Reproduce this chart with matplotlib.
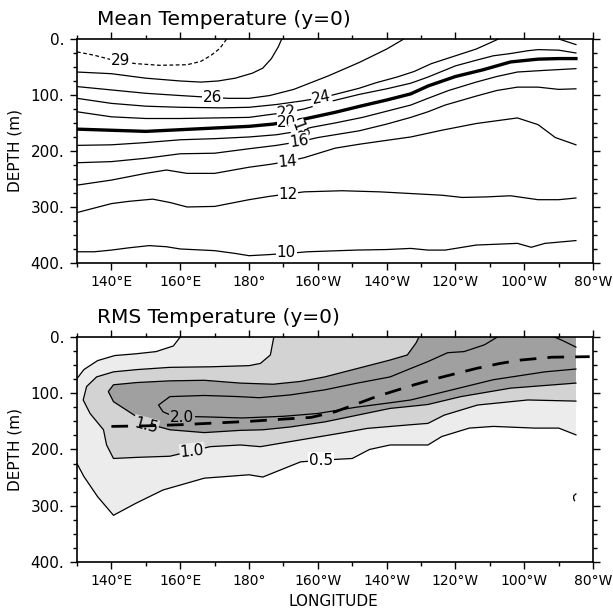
import numpy as np
import matplotlib
matplotlib.use('Agg')
import matplotlib.pyplot as plt
from matplotlib.ticker import FixedLocator, MultipleLocator

# ---- mean temperature isotherms (longitude in deg E, depth in m) ----
t29_lon = [130, 135, 140, 147, 154, 162, 166, 169, 171.5, 173.5]
t29_dep = [23, 29, 37, 44, 47, 46, 40, 29, 17, 0]

t28_lon = [130, 140, 150, 160, 166, 171, 176, 181, 184, 186.5, 188.5, 189.5]
t28_dep = [59, 62, 70, 75, 77, 75, 70, 61, 52, 35, 14, 0]

t26_lon = [130, 140, 150, 160, 168, 174, 180, 186, 193, 203, 212, 220, 225]
t26_dep = [85, 91, 97, 101, 104, 106, 106, 101, 90, 66, 42, 18, 0]

t24_lon = [130, 140, 150, 160, 172, 180, 188, 195, 201, 205, 212, 217, 223,
           228, 233, 240, 246, 250, 252.5]
t24_dep = [106, 115, 120, 122, 123, 122, 117, 111, 105, 99, 88, 78, 68,
           58, 44, 30, 18, 7, 0]
t24b_lon = [270, 272.5, 275]
t24b_dep = [0, 5, 10]

t22_lon = [130, 140, 150, 160, 170, 180, 186, 191, 196, 204, 212, 220, 227,
           232, 240, 246, 251, 256, 261, 264, 270, 275]
t22_dep = [130, 139, 142, 142, 141, 140, 135, 131, 125, 111, 99, 89, 79,
           68, 48, 38, 30, 26, 21, 19, 20, 25]

t20_lon = [130, 140, 150, 160, 170, 180, 187, 196, 205, 213, 220, 227, 232,
           240, 248, 256, 264, 270, 275]
t20_dep = [161, 163, 165, 162, 159, 156, 152, 143, 131, 119, 109, 98, 84,
           67, 55, 41, 36, 35, 35]

t18_lon = [130, 140, 150, 160, 170, 180, 188, 194, 198, 205, 213, 220, 227,
           232, 238, 246, 252, 258, 266, 275]
t18_dep = [190, 189, 185, 180, 178, 175, 171, 165, 158, 150, 140, 129, 118,
           106, 92, 77, 67, 59, 56, 53]

t16_lon = [130, 140, 150, 160, 170, 180, 188, 195, 200, 212, 220, 227, 232,
           237, 246, 252, 258, 264, 270, 275]
t16_dep = [221, 219, 213, 205, 204, 196, 190, 183, 176, 164, 152, 140, 130,
           118, 102, 92, 86, 86, 90, 89]

t14_lon = [130, 140, 150, 156, 162, 170, 180, 186, 191, 196, 205, 212, 220,
           227, 236, 246, 252, 258, 264, 269, 275]
t14_dep = [261, 252, 240, 234, 240, 240, 229, 224, 219, 212, 195, 188, 181,
           175, 163, 151, 146, 141, 153, 176, 189]

t12_lon = [130, 135, 140, 145, 152, 157, 162, 170, 180, 186, 191, 196, 207,
           218, 227, 236, 242, 249, 256, 264, 270, 275]
t12_dep = [310, 302, 294, 290, 286, 292, 300, 299, 287, 281, 277, 273, 271,
           273, 276, 279, 283, 282, 280, 287, 287, 284]

t10_lon = [130, 135, 140, 145, 151, 156, 160, 170, 176, 180, 186, 191, 197,
           211, 220, 227, 232, 237, 246, 258, 262, 266, 275]
t10_dep = [380, 380, 377, 373, 369, 371, 375, 378, 383, 387, 385, 383, 380,
           377, 376, 374, 377, 377, 368, 365, 372, 365, 360]

# ---- RMS temperature contours ----
r05_up_lon = [130, 132, 136, 141, 147, 153, 158, 160]
r05_up_dep = [74, 58, 42, 33, 30, 26, 16, 0]
r05_lo_lon = [130, 132, 136, 140.6, 147, 155, 167, 180, 184, 195, 204, 210,
              215, 221, 232, 236, 244, 251, 263, 270, 275]
r05_lo_dep = [225, 248, 284, 317, 296, 272, 251, 245, 249, 222, 218, 216,
              200, 192, 192, 177, 162, 159, 162, 162, 174]
r05_isl_lon = [275, 274.4, 274.3, 274.6]
r05_isl_dep = [279, 282, 287, 291]

r10_lon = [187.2, 186.2, 183.3, 180, 169, 157, 147.4, 140.6, 135.7, 132.8,
           131.8, 133.8, 137.7, 138.6, 140.6, 147.4, 157, 168.7, 177.5, 183.3,
           192, 206.6, 214.4, 227, 232, 236.7, 246.4, 261, 275]
r10_dep = [0, 32, 47, 51, 53, 54, 58, 62, 71, 88, 112, 136, 165, 192, 216,
           214, 212, 195, 192, 195, 186, 171, 162.5, 156, 153.6, 139, 121,
           112, 114]

r15_lon = [229.4, 228.5, 226, 221, 211.5, 202, 195, 187, 177.5, 167, 157,
           147.4, 140.6, 139.1, 140.6, 147.4, 152.2, 157, 167, 177.5, 184, 192,
           202, 211.5, 221, 229, 232, 241.6, 256, 275]
r15_dep = [0, 11, 32, 41, 56, 71, 79, 84, 82, 77, 78, 81, 85, 97, 115, 142,
           157, 165, 170, 166, 165, 160, 151, 139, 127, 122, 120, 106, 91, 82]

r20_lon = [252.2, 248.4, 242.5, 237.7, 231.9, 227, 221, 211.5, 202, 192, 183,
           177, 167, 157, 153.7, 155, 158, 167, 178, 190, 200, 211, 221, 227,
           237, 251, 266, 275]
r20_dep = [0, 14, 26, 28, 44, 56, 71, 82, 94, 103, 108, 106, 104, 106, 121,
           133, 141, 142, 144, 141, 136, 125, 117, 112, 97, 76, 62, 57]
r20b_lon = [268.7, 271, 275]
r20b_dep = [0, 6, 18]

# depth of the 20 degree isotherm (dashed, lower panel)
z20_lon = [140, 150, 160, 170, 180, 190, 198, 205, 210, 217, 228, 235, 246,
           253, 259, 268, 279]
z20_dep = [159, 158, 156, 153, 150, 146, 143, 133, 122, 106, 85, 73, 56,
           47, 41, 36, 35]

tick_lons = [140, 160, 180, 200, 220, 240, 260, 280]
tick_names = ['140°E', '160°E', '180°', '160°W', '140°W', '120°W', '100°W', '80°W']
depth_ticks = [0, 100, 200, 300, 400]
depth_names = ['0.', '100.', '200.', '300.', '400.']


def style_axes(ax, title):
    ax.set_xlim(130, 280)
    ax.set_ylim(400, 0)
    ax.xaxis.set_major_locator(FixedLocator(tick_lons))
    ax.set_xticklabels(tick_names, fontsize=10)
    ax.xaxis.set_minor_locator(MultipleLocator(10))
    ax.yaxis.set_major_locator(FixedLocator(depth_ticks))
    ax.set_yticklabels(depth_names, fontsize=11)
    ax.yaxis.set_minor_locator(MultipleLocator(25))
    ax.tick_params(which='both', direction='out', top=True, right=True,
                   width=1.0)
    ax.tick_params(which='major', length=5, pad=4)
    ax.tick_params(which='minor', length=3)
    for sp in ax.spines.values():
        sp.set_linewidth(1.2)
    ax.set_ylabel('DEPTH (m)', fontsize=11)
    ax.yaxis.set_label_coords(-0.105, 0.5)
    ax.text(0.039, 1.085, title, transform=ax.transAxes, fontsize=14.5,
            ha='left', va='center')


fig = plt.figure(figsize=(6.13, 6.10), dpi=100)
ax1 = fig.add_axes([0.1256, 0.5689, 0.842, 0.3672])
ax2 = fig.add_axes([0.1256, 0.0787, 0.842, 0.3689])

# ---------------- top panel ----------------
thin = dict(color='black', lw=0.9)
ax1.plot(t29_lon, t29_dep, color='black', lw=0.9, dashes=(3, 2))
for lon, dep in [(t28_lon, t28_dep), (t26_lon, t26_dep), (t24_lon, t24_dep),
                 (t24b_lon, t24b_dep), (t22_lon, t22_dep), (t18_lon, t18_dep),
                 (t16_lon, t16_dep), (t14_lon, t14_dep), (t12_lon, t12_dep),
                 (t10_lon, t10_dep)]:
    ax1.plot(lon, dep, **thin)
ax1.plot(t20_lon, t20_dep, color='black', lw=2.4)

white_box = dict(facecolor='white', edgecolor='none', pad=0.5)
top_labels = [('29', 142.7, 39, 0), ('26', 169.5, 105, 0), ('24', 201, 104, 12),
              ('22', 191, 131, 8), ('20', 191, 149, 0), ('18', 194.5, 164, -70),
              ('16', 194.5, 182, 8), ('14', 191.3, 219, 5), ('12', 191.3, 277, 0),
              ('10', 190.8, 382, 0)]
for txt, x, y, rot in top_labels:
    ax1.text(x, y, txt, fontsize=11, ha='center', va='center', rotation=rot,
             bbox=white_box, zorder=5)
style_axes(ax1, 'Mean Temperature (y=0)')

# ---------------- bottom panel ----------------
c_light, c_mid, c_dark = '#ececec', '#d3d3d3', '#a0a0a0'

poly_lon = np.concatenate([r05_up_lon, [275], r05_lo_lon[::-1]])
poly_dep = np.concatenate([r05_up_dep, [0], r05_lo_dep[::-1]])
ax2.fill(poly_lon, poly_dep, color=c_light, lw=0)
ax2.fill(np.concatenate([r10_lon, [275]]), np.concatenate([r10_dep, [0]]),
         color=c_mid, lw=0)
ax2.fill(np.concatenate([r15_lon, [275]]), np.concatenate([r15_dep, [0]]),
         color=c_dark, lw=0)

for lon, dep in [(r05_up_lon, r05_up_dep), (r05_lo_lon, r05_lo_dep),
                 (r05_isl_lon, r05_isl_dep), (r10_lon, r10_dep),
                 (r15_lon, r15_dep), (r20_lon, r20_dep), (r20b_lon, r20b_dep)]:
    ax2.plot(lon, dep, **thin)

rms_labels = [('2.0', 160.5, 143, 0, c_dark), ('1.5', 150, 157, -15, c_mid),
              ('1.0', 163.5, 203, 6, c_light), ('0.5', 201, 219, 0, 'white')]
for txt, x, y, rot, bg in rms_labels:
    ax2.text(x, y, txt, fontsize=11, ha='center', va='center', rotation=rot,
             bbox=dict(facecolor=bg, edgecolor='none', pad=0.5), zorder=5)

ax2.plot(z20_lon, z20_dep, color='black', lw=2.0, dashes=(6, 4), zorder=6,
         clip_on=False)
style_axes(ax2, 'RMS Temperature (y=0)')
ax2.set_xlabel('LONGITUDE', fontsize=11, va='center')
ax2.xaxis.set_label_coords(0.496, -0.175)

fig.savefig('out.png', dpi=100)
